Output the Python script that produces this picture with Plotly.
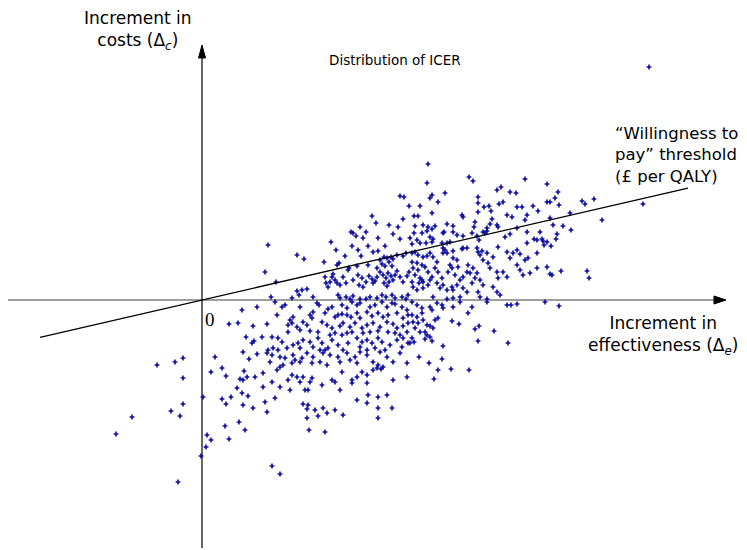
import plotly.graph_objects as go

# Simulated (bootstrap) pairs of incremental effectiveness (delta_e) and incremental cost (delta_c)
# arbitrary units, grouped by region of the plane
e_a = [170,174,187,201,207,158,164,149,151,154,161,176,191,196,198,129,150,134,156,166,183,171,176,66,95,102,143,159,122,137,
       135,147,146,155,166,175,178,182,185,189,191,195,187,180,183,190,201,204,63,74,131,130,133,128,135,138,126,123,124,141,
       144,151,156,160,157,161,164,167,170,171,173,175,178,181,184,186,189,182,185,187,191,193,195,198,201,205,207,95,100,105,
       97,90,69,111,136,138,144,148,151,158,164,168,175,180,184,190,193,200,204,206]
c_a = [84,77,75,81,94,73,68,68,67,64,62,62,66,73,61,58,54,50,50,54,54,48,49,55,45,41,44,44,38,37,
       35,32,30,34,35,32,40,43,42,43,41,45,38,36,34,34,44,47,28,18,26,23,20,18,17,15,13,23,17,23,
       17,20,25,22,15,13,18,24,21,17,19,23,28,25,22,27,24,17,14,18,20,25,29,23,18,24,28,9,10,11,
       5,2,3,3,5,2,3,1,4,1,1,3,2,5,3,5,2,3,1,5]

e_b = [218,236,276,287,282,297,301,315,320,331,336,212,216,230,260,261,276,289,290,305,310,323,325,213,221,226,233,245,251,273,
       272,285,288,295,296,315,212,220,225,230,241,242,251,255,261,270,275,281,283,285,277,228,231,230,224,215,218,208,210,240,
       245,248,325,332,335,303,308,325,241,243,245,251,241,260,261,265,275,276,280,278,285,296,305,315,318,323,326,335]
c_b = [94,98,97,94,93,96,98,93,93,94,89,84,84,87,85,83,88,89,81,85,83,80,85,74,75,73,74,76,74,78,
       73,72,76,75,73,72,67,67,69,71,67,68,68,65,64,67,64,68,67,69,60,63,61,58,57,60,57,62,56,57,
       57,58,68,61,60,63,66,57,52,50,47,49,47,51,52,52,52,48,49,45,47,53,48,50,46,40,42,47]

e_c = [210,213,216,221,225,228,210,215,220,211,216,223,226,213,218,221,220,217,210,211,215,221,226,228,231,235,233,236,230,235,
       238,241,245,240,246,248,251,250,255,256,253,258,261,255,250,251,261,265,266,268,271,273,275,278,281,276,270,265,281,286,
       288,291,295,296,301,305,308,311,315,318,321,328,335,295,298,291,278,285,258,251,245,231]
c_c = [47,48,45,43,44,47,38,37,35,32,30,33,28,25,22,18,20,17,18,13,10,12,15,20,43,38,32,28,23,17,
       12,15,10,22,28,35,42,32,40,33,25,20,23,15,13,10,12,28,35,27,32,22,27,20,15,8,17,8,40,37,
       32,43,28,22,28,23,42,47,35,30,25,27,32,8,5,13,3,1,3,2,1,3]

e_top = [226,225,267,271,323,198,202,228,230,243,276,295,299,308,314,
         447,345,356,353,345,348,357,380,383,392,441,368,348,400,351,361,369,355,354,340,341,345,342,349,338,345,348,350,359,385,387]
c_top = [136,117,123,119,121,104,103,102,105,107,103,110,113,108,107,
         233,116,108,102,98,98,95,99,96,101,96,87,82,80,75,74,70,66,61,61,59,58,55,54,68,33,26,25,29,29,22]

e_d = [73,80,83,98,115,117,126,130,140,145,150,155,158,168,173,180,185,190,193,200,205,75,88,91,108,111,110,123,133,136,
       140,145,149,155,158,165,170,176,181,186,195,201,206,65,86,90,95,101,105,120,125,130,138,141,148,153,160,165,171,178,
       185,191,195,201,206,86,98,108,116,128,133,140,145,150,161,168,176,186,193,198,205,60,70,76,80,91,96,101,108,116,
       120,123,130,136,146,155,160,165,170,176,180,188,195,201,206,66,71,76,85,98,111,118,126,141,158,165,173,183,200,65,
       70,78,83,91,93,100,105,111,121,128,136,145,153,158,165,178,185,198,68,78,81,90,98,110,118,125,138,148,155,171,176,
       181,191,205,61,75,86,90,95,98,101,108,110,130,133,140,150,155,160,165,171,175,179,191,205,70,78,88,61,103,106,120,
       138,150,165,166,176,185,63,73,101,106,105,113,121,125,133,141,155,165,176,190,65,105,116,176]
c_d = [-2,-7,-5,-7,-3,-5,-9,-7,-5,-8,-2,-5,-3,-7,-5,-2,-7,-3,-4,-7,-10,-15,-20,-17,-15,-12,-18,-13,-17,-15,
       -14,-15,-17,-13,-18,-12,-16,-13,-17,-15,-13,-18,-15,-24,-25,-23,-27,-22,-25,-22,-25,-28,-26,-23,-27,-23,-28,-25,-23,-27,
       -22,-24,-28,-26,-23,-32,-30,-31,-32,-35,-33,-35,-33,-32,-33,-32,-31,-32,-33,-35,-32,-37,-37,-38,-42,-45,-43,-40,-42,-38,
       -43,-50,-40,-45,-43,-38,-42,-40,-43,-38,-42,-45,-40,-38,-43,-50,-48,-50,-48,-48,-47,-50,-48,-50,-47,-50,-48,-50,-47,-53,
       -55,-57,-58,-55,-60,-58,-53,-57,-53,-55,-57,-53,-57,-52,-55,-52,-57,-53,-62,-67,-65,-63,-62,-63,-62,-65,-62,-60,-63,-62,-65,
       -67,-62,-63,-73,-70,-80,-75,-77,-82,-77,-82,-78,-80,-82,-72,-80,-77,-72,-75,-70,-68,-69,-80,-77,-82,-87,-90,-87,-90,-90,-85,
       -90,-83,-83,-95,-97,-95,-102,-98,-104,-105,-109,-110,-108,-113,-110,-115,-100,-103,-108,-108,-112,-118,-116,-118]

e_e = [210,215,220,228,230,235,240,241,251,258,266,270,285,305,309,315,343,357,210,215,220,211,216,221,225,228,231,236,233,213,
       218,223,225,228,230,223,250,257,273,277,292,210,212,241,276,306,217,227,240,236,249,267,232,208]
c_e = [-2,-5,-8,-7,-10,-3,-5,-8,-7,-2,-13,-7,-2,-5,-5,-4,-2,-6,-15,-17,-13,-22,-23,-20,-25,-26,-28,-18,-20,-28,
       -32,-32,-35,-37,-41,-39,-21,-24,-29,-26,-31,-38,-42,-46,-41,-43,-57,-63,-59,-70,-69,-70,-79,-43]

e_f = [40,55,27,36,51,44,50,52,41,47,55,13,-45,-27,-19,9,20,24,42,45,38,41,53,-19,35,40,46,29,20,24,
       41,51,1,-19,-31,-22,-70,-86,23,37,43,5,9,4,27,-1,-24,70,78,107,123]
c_f = [-10,-7,-24,-23,-26,-37,-43,-41,-52,-59,-54,-57,-65,-62,-58,-72,-68,-76,-71,-77,-79,-80,-77,-78,-88,-93,-96,-97,-99,-104,
       -105,-108,-97,-104,-111,-116,-117,-134,-126,-122,-130,-135,-140,-147,-139,-156,-182,-166,-174,-130,-132]

delta_e = e_a + e_b + e_c + e_top + e_d + e_e + e_f
delta_c = c_a + c_b + c_c + c_top + c_d + c_e + c_f

# willingness-to-pay threshold: cost = wtp * effectiveness
wtp = 0.23
wtp_e_range = [-162, 486]

fig = go.Figure()

fig.add_trace(go.Scatter(
    x=delta_e, y=delta_c, mode="markers",
    marker=dict(symbol="cross", size=4, color="#0c0c9e", line=dict(width=0)),
    hoverinfo="skip", showlegend=False))

fig.add_trace(go.Scatter(
    x=wtp_e_range, y=[wtp * v for v in wtp_e_range], mode="lines",
    line=dict(color="black", width=1.3), hoverinfo="skip", showlegend=False))

# axes drawn through the origin, with arrowheads
fig.add_shape(type="line", x0=-194, y0=0, x1=516, y1=0, line=dict(color="#7f7f7f", width=1.5), layer="below")
fig.add_shape(type="line", x0=0, y0=-248, x1=0, y1=248, line=dict(color="black", width=1.2), layer="below")
fig.add_shape(type="path", path="M 524 0 L 512 4 L 512 -4 Z", fillcolor="black", line=dict(color="black", width=1))
fig.add_shape(type="path", path="M 0 255 L -3.5 242 L 3.5 242 Z", fillcolor="black", line=dict(color="black", width=1))

font = dict(family="DejaVu Sans", size=17, color="black")
fig.add_annotation(x=-64, y=270, xref="x", yref="y", showarrow=False, align="center", font=font,
                   text="Increment in<br>costs (Δ<sub><i>c</i></sub>)")
fig.add_annotation(x=193, y=240, xref="x", yref="y", showarrow=False,
                   font=dict(family="DejaVu Sans", size=13.5, color="black"),
                   text="Distribution of ICER")
fig.add_annotation(x=411, y=145, xref="x", yref="y", showarrow=False, align="left", xanchor="left",
                   font=dict(family="DejaVu Sans", size=16.5, color="black"),
                   text="“Willingness to<br>pay” threshold<br>(£ per QALY)")
fig.add_annotation(x=461, y=-35, xref="x", yref="y", showarrow=False, align="center", font=font,
                   text="Increment in<br>effectiveness (Δ<sub><i>e</i></sub>)")
fig.add_annotation(x=8, y=-19, xref="x", yref="y", showarrow=False,
                   font=dict(family="Liberation Serif", size=19, color="black"), text="0")

fig.update_layout(
    width=747, height=550, margin=dict(l=0, r=0, t=0, b=0),
    paper_bgcolor="white", plot_bgcolor="white",
    xaxis=dict(range=[-202, 545], visible=False, fixedrange=True),
    yaxis=dict(range=[-250, 300], visible=False, fixedrange=True),
)

fig.write_html("out.html", config={"displayModeBar": False},
               post_script="document.body.style.margin='0';")
